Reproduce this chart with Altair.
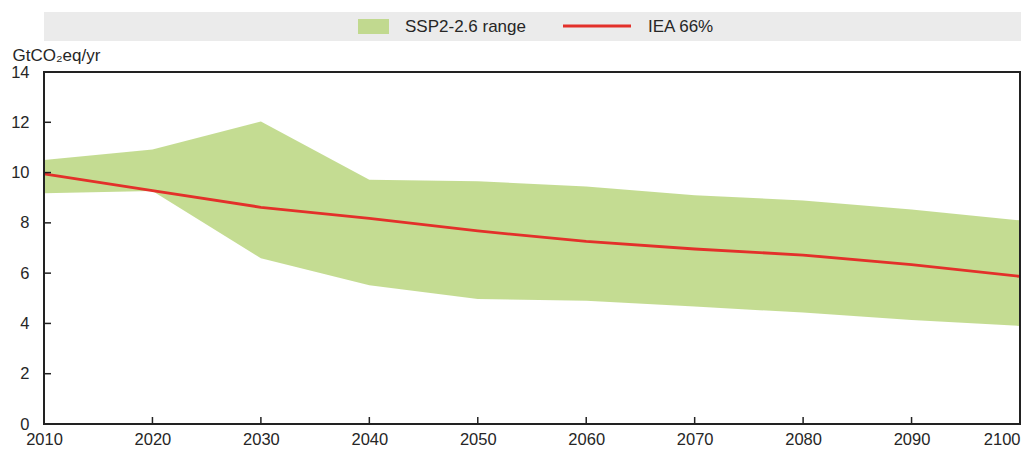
import altair as alt
import pandas as pd

# ---- data ----
years = [2010, 2020, 2030, 2040, 2050, 2060, 2070, 2080, 2090, 2100]
ssp_low = [9.18, 9.27, 6.59, 5.52, 4.97, 4.90, 4.67, 4.43, 4.14, 3.90]
ssp_high = [10.50, 10.92, 12.03, 9.71, 9.65, 9.45, 9.10, 8.89, 8.53, 8.10]
iea_66 = [9.95, 9.28, 8.62, 8.18, 7.68, 7.26, 6.96, 6.72, 6.34, 5.87]

y_ticks = [0, 2, 4, 6, 8, 10, 12, 14]
legend_labels = ["SSP2-2.6 range", "IEA 66%"]
y_title = "GtCO₂eq/yr"

df = pd.DataFrame({"year": years, "low": ssp_low, "high": ssp_high, "iea": iea_66})

W, H = 976, 352
PAD_L, PAD_T, PAD_R = 36, 64, 1
PAD_B = 444 - PAD_T - H
FONT = "Liberation Sans"
TXT = "#262626"
GREEN_AREA = "#bad67f"
GREEN_SWATCH = "#c1d98f"
RED = "#e3302a"
BG = "#ebebeb"

x_scale = alt.Scale(domain=[2010, 2100], nice=False, zero=False)
y_scale = alt.Scale(domain=[0, 14], nice=False)

x_axis = alt.Axis(
    values=years, format="d", title=None, grid=True, gridColor="white",
    gridWidth=1.3, domain=False, ticks=False, labelPadding=7,
    labelFontSize=16.5, labelColor=TXT, labelFont=FONT,
    labelAlign={"condition": {"test": "datum.value == 2100", "value": "right"},
                "value": "center"},
)
y_axis = alt.Axis(
    values=y_ticks, title=y_title, grid=True, gridColor="white", gridWidth=1.3,
    domain=False, ticks=False, labelPadding=15, labelFontSize=16.5,
    labelColor=TXT, labelFont=FONT, titleAngle=0, titleX=-32, titleY=-12,
    titleAlign="left", titleBaseline="alphabetic", titleFontSize=17,
    titleFontWeight="normal", titleColor=TXT, titleFont=FONT,
)

X = alt.X("year:Q", scale=x_scale, axis=x_axis)

area = alt.Chart(df).mark_area(color=GREEN_AREA, opacity=0.85).encode(
    x=X,
    y=alt.Y("low:Q", scale=y_scale, axis=y_axis, title=y_title),
    y2="high:Q",
)

line = alt.Chart(df).mark_line(color=RED, strokeWidth=2.8).encode(
    x=X,
    y=alt.Y("iea:Q", scale=y_scale, axis=y_axis, title=y_title),
)

frame = alt.Chart(pd.DataFrame({"k": [0]})).mark_rect(
    fillOpacity=0, stroke="#222222", strokeWidth=2
).encode(x=alt.value(0), x2=alt.value(W), y=alt.value(0), y2=alt.value(H))

ytick_df = pd.DataFrame({"v": y_ticks[1:-1]})
yticks = alt.Chart(ytick_df).mark_rule(color="#222222", strokeWidth=1.5).encode(
    y=alt.Y("v:Q", scale=y_scale, axis=y_axis, title=y_title),
    x=alt.value(0), x2=alt.value(7),
)

xtick_df = pd.DataFrame({"yr": years[1:-1]})
xticks = alt.Chart(xtick_df).mark_rule(color="#222222", strokeWidth=1.5).encode(
    x=alt.X("yr:Q", scale=x_scale, axis=x_axis),
    y=alt.value(H), y2=alt.value(H - 7),
)

# ---- legend (top band) ----
one = pd.DataFrame({"k": [0]})
leg_bg = alt.Chart(one).mark_rect(color=BG).encode(
    x=alt.value(0), x2=alt.value(W + PAD_R), y=alt.value(-60), y2=alt.value(-31)
)
leg_sw = alt.Chart(one).mark_rect(color=GREEN_SWATCH).encode(
    x=alt.value(314), x2=alt.value(345), y=alt.value(-53), y2=alt.value(-38)
)
leg_t1 = alt.Chart(one).mark_text(
    align="left", baseline="middle", font=FONT, fontSize=17, color=TXT
).encode(x=alt.value(361), y=alt.value(-45), text=alt.value(legend_labels[0]))
leg_ln = alt.Chart(one).mark_rule(color=RED, strokeWidth=2.8).encode(
    x=alt.value(519), x2=alt.value(587), y=alt.value(-46)
)
leg_t2 = alt.Chart(one).mark_text(
    align="left", baseline="middle", font=FONT, fontSize=17, color=TXT
).encode(x=alt.value(604), y=alt.value(-45), text=alt.value(legend_labels[1]))

chart = alt.layer(
    area, line, frame, yticks, xticks, leg_bg, leg_sw, leg_t1, leg_ln, leg_t2
).properties(
    width=W, height=H,
    autosize=alt.AutoSizeParams(type="none"),
    padding={"left": PAD_L, "top": PAD_T, "right": PAD_R, "bottom": PAD_B},
).configure_view(
    fill=BG, stroke=None
).configure(background="white")

chart.save("out.html", embed_options={"renderer": "svg", "actions": False})
